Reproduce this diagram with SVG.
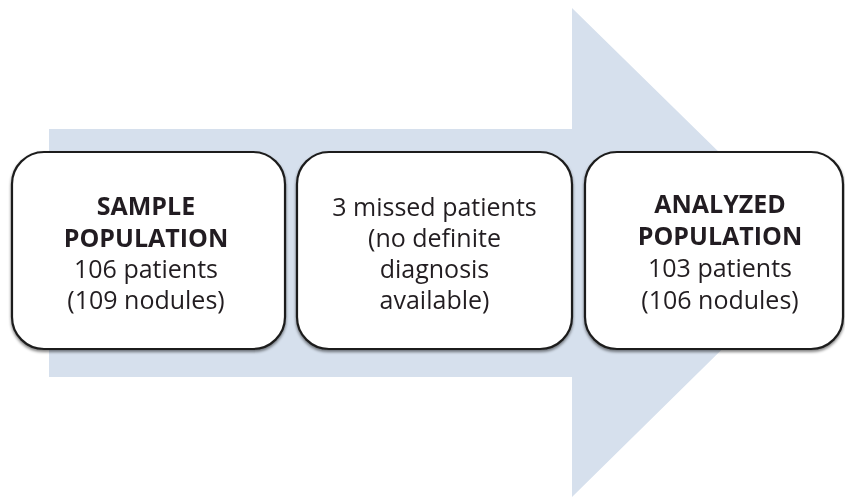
<svg xmlns="http://www.w3.org/2000/svg" width="845" height="500" viewBox="0 0 845 500">
<defs>
<filter id="sh" x="-5%" y="-5%" width="110%" height="115%">
<feGaussianBlur in="SourceAlpha" stdDeviation="1.5"/>
<feOffset dx="0" dy="2" result="b"/>
<feComponentTransfer><feFuncA type="linear" slope="0.5"/></feComponentTransfer>
<feMerge><feMergeNode/><feMergeNode in="SourceGraphic"/></feMerge>
</filter>
</defs>
<style>
.box{fill:#ffffff;stroke:#1e1e1e;stroke-width:2.2}
.t{font-family:"Open Sans","Noto Sans","Liberation Sans",sans-serif;font-size:25px;fill:#231f20;text-anchor:middle}
.b{font-weight:bold}
</style>
<rect width="845" height="500" fill="#ffffff"/>
<g id="arrow">
<polygon points="49,129 572,129 572,8 821,252 572,497 572,377 49,377" fill="#d6e0ed"/>
</g>
<g id="connectors"></g>
<g id="node1" filter="url(#sh)">
<rect class="box" x="12" y="152" width="273" height="197" rx="32" ry="32"/>
<text class="t b" x="146" y="215">SAMPLE</text>
<text class="t b" x="146" y="247">POPULATION</text>
<text class="t" x="146" y="278">106 patients</text>
<text class="t" x="146" y="309">(109 nodules)</text>
</g>
<g id="node2" filter="url(#sh)">
<rect class="box" x="297" y="152" width="275" height="197" rx="32" ry="32"/>
<text class="t" x="434.5" y="216">3 missed patients</text>
<text class="t" x="434.5" y="247">(no definite</text>
<text class="t" x="434.5" y="278">diagnosis</text>
<text class="t" x="434.5" y="309">available)</text>
</g>
<g id="node3" filter="url(#sh)">
<rect class="box" x="585" y="152" width="258" height="197" rx="32" ry="32"/>
<text class="t b" x="720" y="213">ANALYZED</text>
<text class="t b" x="720" y="245">POPULATION</text>
<text class="t" x="720" y="277">103 patients</text>
<text class="t" x="720" y="309">(106 nodules)</text>
</g>
</svg>
